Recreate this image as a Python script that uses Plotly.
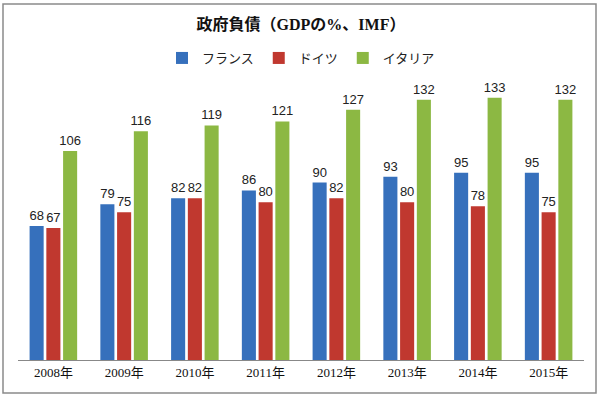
import plotly.graph_objects as go

years = ["2008年", "2009年", "2010年", "2011年", "2012年", "2013年", "2014年", "2015年"]
france = [68, 79, 82, 86, 90, 93, 95, 95]
germany = [67, 75, 82, 80, 82, 80, 78, 75]
italy = [106, 116, 119, 121, 127, 132, 133, 132]

series = [
    ("フランス", france, "#3670BC"),
    ("ドイツ", germany, "#C0382F"),
    ("イタリア", italy, "#8CB843"),
]

fig = go.Figure()
for name, vals, col in series:
    fig.add_trace(go.Bar(
        x=years, y=vals, name=name,
        marker=dict(color=col, line=dict(width=0)),
        text=vals, textposition="outside", cliponaxis=False, constraintext="none",
        textfont=dict(family="Liberation Sans, Arial", size=13, color="#222"),
    ))

W, H = 602, 397
L, R, T, B = 18, 584, 84, 360
pw, ph = R - L, B - T

def px_x(x):
    return (x - L) / pw

def px_y(y):
    return (B - y) / ph

fig.add_shape(type="rect", xref="paper", yref="paper",
              x0=px_x(3), x1=px_x(596), y0=px_y(393), y1=px_y(4),
              line=dict(color="#8a8a8a", width=1.5), layer="below")

fig.update_layout(
    width=W, height=H,
    margin=dict(l=L, r=W - R, t=T, b=H - B, autoexpand=False),
    paper_bgcolor="white", plot_bgcolor="white",
    barmode="group", bargap=0.29, bargroupgap=0.16,
    title=dict(text="<b>政府負債（GDPの%、IMF）</b>", x=0.5, xanchor="center",
               y=1 - 24 / H, yanchor="middle",
               font=dict(family="Liberation Serif, Noto Sans CJK JP", size=16, color="#111")),
    legend=dict(orientation="h", x=0.5, xanchor="center", y=px_y(58), yanchor="middle",
                font=dict(family="Noto Sans CJK JP", size=13, color="#222"),
                itemwidth=30, traceorder="normal"),
    xaxis=dict(showline=True, linecolor="#888", linewidth=1, ticks="", automargin=False,
               tickfont=dict(family="Liberation Serif, Noto Sans CJK JP", size=13, color="#111"),
               fixedrange=True),
    yaxis=dict(range=[0, 140], visible=False, showgrid=False, fixedrange=True, automargin=False),
    showlegend=True,
)

fig.write_html("out.html", post_script="document.body.style.margin='0';",
               config={"displayModeBar": False})
